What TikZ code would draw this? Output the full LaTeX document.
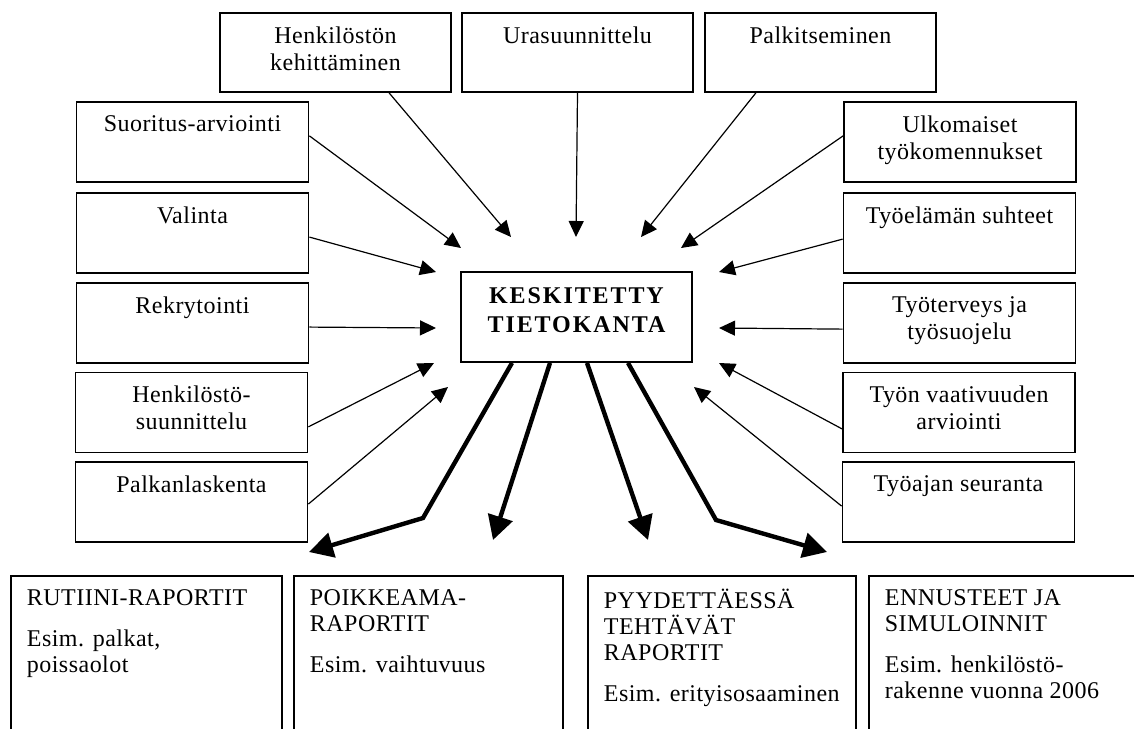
\documentclass[tikz,border=0pt]{standalone}
\usepackage{fontspec}
\setmainfont{Liberation Serif}[LetterSpace=2]
\usepackage{tikz}
\usetikzlibrary{calc,arrows.meta}

\tikzset{
  box/.style={draw, line width=0.9pt, minimum width=116pt, minimum height=40pt, inner sep=0pt},
  boxtext/.style={anchor=north, align=center, inner sep=0pt, yshift=-7pt,
    font=\fontsize{12}{13.5}\selectfont},
  rbox/.style={draw, line width=0.9pt, anchor=north west, minimum height=95pt, inner sep=0pt},
  rtext/.style={anchor=north west, align=left, inner sep=0pt, xshift=8.25pt, yshift=-7pt,
    font=\fontsize{12}{13}\selectfont},
  feed/.style={line width=0.6pt, -{Triangle[length=8pt,width=7.5pt]}},
  report/.style={line width=2.2pt, -{Triangle[length=12pt,width=12.5pt]}},
}

\begin{document}
\begin{tikzpicture}[x=0.5pt,y=-0.5pt]
  \useasboundingbox (0,0) rectangle (1134,728);

  % the database in the middle
  \node[box, minimum width=115.5pt, minimum height=45pt] (kt) at (576.5,317)
    {};
  \node[boxtext, yshift=-1pt, font=\fontsize{12}{14.5}\selectfont\bfseries\addfontfeatures{LetterSpace=8}]
    (ktText) at (kt.north) {KESKITETTY\\TIETOKANTA};

  % top row
  \node[box, minimum width=115.5pt, minimum height=39.5pt] (hk) at (335.5,52.5)
    {}; \node[boxtext] (hkText) at (hk.north) {Henkilöstön\\kehittäminen};
  \node[box, minimum width=115.5pt, minimum height=39.5pt] (ura) at (577.5,52.5)
    {}; \node[boxtext] (uraText) at (ura.north) {Urasuunnittelu};
  \node[box, minimum width=115.5pt, minimum height=39.5pt] (palk) at (820.5,52.5)
    {}; \node[boxtext] (palkText) at (palk.north) {Palkitseminen};

  % left column
  \node[box] (suor) at (192.5,142) {}; \node[boxtext] (suorText) at (suor.north) {Suoritus-arviointi};
  \node[box] (val) at (192.5,233) {}; \node[boxtext] (valText) at (val.north) {Valinta};
  \node[box] (rek) at (192.5,323) {}; \node[boxtext] (rekText) at (rek.north) {Rekrytointi};
  \node[box] (hs) at (191.5,412.5) {}; \node[boxtext] (hsText) at (hs.north) {Henkilöstö-\\suunnittelu};
  \node[box] (pl) at (191.5,502) {}; \node[boxtext] (plText) at (pl.north) {Palkanlaskenta};

  % right column
  \node[box] (ulk) at (960,142) {}; \node[boxtext] (ulkText) at (ulk.north) {Ulkomaiset\\työkomennukset};
  \node[box] (tyel) at (959.5,233) {}; \node[boxtext] (tyelText) at (tyel.north) {Työelämän suhteet};
  \node[box] (tyt) at (959.5,323) {}; \node[boxtext] (tytText) at (tyt.north) {Työterveys ja\\työsuojelu};
  \node[box] (tva) at (959,412.5) {}; \node[boxtext] (tvaText) at (tva.north) {Työn vaativuuden\\arviointi};
  \node[box] (tyaj) at (958.5,502) {}; \node[boxtext] (tyajText) at (tyaj.north) {Työajan seuranta};

  % arrow tips round the database
  \coordinate (hkTip) at (511,237);
  \coordinate (uraTip) at (576,237);
  \coordinate (palkTip) at (641,237);
  \coordinate (suorTip) at (461,248);
  \coordinate (ulkTip) at (681,248);
  \coordinate (valTip) at (436,272);
  \coordinate (tyelTip) at (719,272);
  \coordinate (rekTip) at (436,328);
  \coordinate (tytTip) at (719,328);
  \coordinate (hsTip) at (434,363);
  \coordinate (tvaTip) at (719,363);
  \coordinate (plTip) at (448,387);
  \coordinate (tyajTip) at (694,387);

  \draw[feed] (hk.-37) -- (hkTip);
  \draw[feed] (ura.south) -- (uraTip);
  \draw[feed] (palk.-148) -- (palkTip);
  \draw[feed] (suor.3) -- (suorTip);
  \draw[feed] (val.-2.5) -- (valTip);
  \draw[feed] (rek.-2.5) -- (rekTip);
  \draw[feed] (hs.-7.5) -- (hsTip);
  \draw[feed] (pl.-1.5) -- (plTip);
  \draw[feed] (ulk.177.5) -- (ulkTip);
  \draw[feed] (tyel.-177.5) -- (tyelTip);
  \draw[feed] (tyt.-177.5) -- (tytTip);
  \draw[feed] (tva.-172.5) -- (tvaTip);
  \draw[feed] (tyaj.-178) -- (tyajTip);

  % reports
  \node[rbox, minimum width=135.5pt] (rutiini) at (10,575) {};
  \node[rtext] (rutiiniText) at (rutiini.north west)
    {RUTIINI-RAPORTIT\\[7.5pt]Esim. palkat,\\poissaolot};
  \node[rbox, minimum width=134.5pt] (poik) at (293,575) {};
  \node[rtext] (poikText) at (poik.north west)
    {POIKKEAMA-\\RAPORTIT\\[7.5pt]Esim. vaihtuvuus};
  \node[rbox, minimum width=134pt] (pyyd) at (587,575) {};
  \node[rtext] (pyydText) at (pyyd.north west)
    {PYYDETTÄESSÄ\\TEHTÄVÄT\\RAPORTIT\\[7.5pt]Esim. erityisosaaminen};
  \node[rbox, minimum width=170pt] (enn) at (868,575) {};
  \node[rtext] (ennText) at (enn.north west)
    {ENNUSTEET JA\\SIMULOINNIT\\[7.5pt]Esim. henkilöstö-\\rakenne vuonna 2006};

  \coordinate (rutiiniTip) at (309,552);
  \coordinate (poikTip) at (493,540);
  \coordinate (pyydTip) at (648,540);
  \coordinate (ennTip) at (827,552);

  \draw[report] ($(kt.south)+(-64.5,0)$) -- (423,518) -- (rutiiniTip);
  \draw[report] ($(kt.south)+(-26.5,0)$) -- (poikTip);
  \draw[report] ($(kt.south)+(10.5,0)$) -- (pyydTip);
  \draw[report] ($(kt.south)+(51.5,0)$) -- (716,520) -- (ennTip);
\end{tikzpicture}
\end{document}
